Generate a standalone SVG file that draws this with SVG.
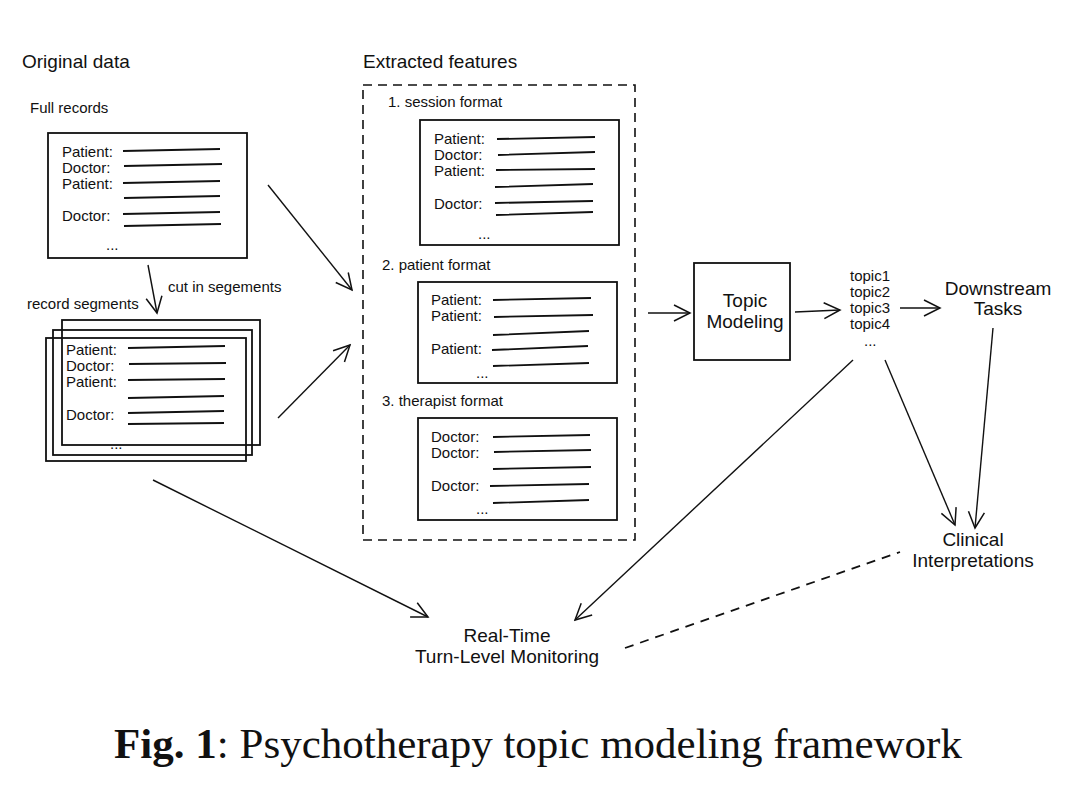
<svg xmlns="http://www.w3.org/2000/svg" width="1070" height="804" viewBox="0 0 1070 804">
<style>
text{font-family:"Liberation Sans",Arial,sans-serif;fill:#111}
.h{font-size:19px}.s{font-size:15px}.m{font-size:19px}
.box{fill:none;stroke:#111;stroke-width:1.8}
.ln{stroke:#111;stroke-width:1.8;fill:none}
.ar{stroke:#111;stroke-width:1.4;fill:none;marker-end:url(#a)}
</style>
<defs><marker id="a" viewBox="0 0 20 20" refX="18" refY="10" markerWidth="20" markerHeight="20" markerUnits="userSpaceOnUse" orient="auto"><path d="M2,2 L18,10 L2,18" fill="none" stroke="#111" stroke-width="1.5"/></marker></defs>
<rect width="1070" height="804" fill="#fff"/>
<text class="h" x="22" y="68">Original data</text>
<text class="h" x="363" y="68">Extracted features</text>
<g id="full"><text class="s" x="30" y="113">Full records</text>
<rect class="box" x="48" y="133" width="199" height="125"/>
<text class="s" x="62" y="157">Patient:</text><text class="s" x="62" y="173">Doctor:</text><text class="s" x="62" y="189">Patient:</text><text class="s" x="62" y="221">Doctor:</text><text class="s" x="106" y="250">...</text>
<path class="ln" d="M123,151L220,149M124,166L222,164M123,183L220,181M124,198L220,196M123,214L220,212M124,226L221,224"/></g>
<g id="segs"><text class="s" x="27" y="309">record segments</text>
<rect class="box" x="62" y="320" width="198" height="125"/><rect class="box" x="53" y="330" width="199" height="125"/><rect class="box" x="46" y="338" width="200" height="123"/>
<text class="s" x="66" y="355">Patient:</text><text class="s" x="66" y="371">Doctor:</text><text class="s" x="66" y="387">Patient:</text><text class="s" x="66" y="420">Doctor:</text><text class="s" x="110" y="449">...</text>
<path class="ln" d="M128,348L225,346M129,364L226,363M128,380L225,379M128,398L224,396M128,413L224,411M128,424L224,423"/></g>
<g id="features"><rect x="363" y="85" width="272" height="455" fill="none" stroke="#111" stroke-width="1.6" stroke-dasharray="9,6"/>
<text class="s" x="388" y="107">1. session format</text>
<rect class="box" x="420" y="120" width="199" height="125"/>
<text class="s" x="434" y="144">Patient:</text><text class="s" x="434" y="160">Doctor:</text><text class="s" x="434" y="176">Patient:</text><text class="s" x="434" y="209">Doctor:</text><text class="s" x="478" y="239">...</text>
<path class="ln" d="M497,139L595,137M498,155L595,152M496,170L595,169M495,187L593,184M495,203L593,201M496,215L593,212"/>
<text class="s" x="382" y="270">2. patient format</text>
<rect class="box" x="418" y="282" width="199" height="101"/>
<text class="s" x="431" y="305">Patient:</text><text class="s" x="431" y="321">Patient:</text><text class="s" x="431" y="354">Patient:</text><text class="s" x="476" y="378">...</text>
<path class="ln" d="M493,300L591,298M494,317L593,315M493,335L589,331M492,350L588,346M493,366L589,363"/>
<text class="s" x="382" y="406">3. therapist format</text>
<rect class="box" x="418" y="418" width="199" height="102"/>
<text class="s" x="431" y="442">Doctor:</text><text class="s" x="431" y="458">Doctor:</text><text class="s" x="431" y="491">Doctor:</text><text class="s" x="476" y="514">...</text>
<path class="ln" d="M493,437L590,435M494,452L591,450M493,469L591,467M490,486L589,484M493,503L589,500"/></g>
<g id="topic"><rect class="box" x="694" y="263" width="96" height="97"/>
<text class="m" x="745" y="307" text-anchor="middle">Topic</text><text class="m" x="745" y="328" text-anchor="middle">Modeling</text></g>
<g id="topics"><text class="s" x="850" y="281">topic1</text><text class="s" x="850" y="297">topic2</text><text class="s" x="850" y="313">topic3</text><text class="s" x="850" y="329">topic4</text><text class="s" x="864" y="346">...</text></g>
<g id="down"><text class="m" x="998" y="295" text-anchor="middle">Downstream</text><text class="m" x="998" y="315" text-anchor="middle">Tasks</text></g>
<g id="clin"><text class="m" x="973" y="546" text-anchor="middle">Clinical</text><text class="m" x="973" y="567" text-anchor="middle">Interpretations</text></g>
<g id="rt"><text class="m" x="507" y="642" text-anchor="middle">Real-Time</text><text class="m" x="507" y="663" text-anchor="middle">Turn-Level Monitoring</text></g>
<g id="connectors">
<path class="ar" d="M148,265L157,313"/>
<text class="s" x="168" y="292">cut in segements</text>
<path class="ar" d="M268,185L352,290"/>
<path class="ar" d="M278,418L350,345"/>
<path class="ar" d="M648,313L690,313"/>
<path class="ar" d="M795,312L840,310"/>
<path class="ar" d="M900,308L940,308"/>
<path class="ar" d="M993,328L975,528"/>
<path class="ar" d="M885,360L955,525"/>
<path class="ar" d="M853,360L575,620"/>
<path class="ar" d="M153,480L428,617"/>
<path d="M625,648L900,552" stroke="#111" stroke-width="1.8" stroke-dasharray="9,7" fill="none"/>
</g>
<text x="538" y="758" text-anchor="middle" style="font-family:'Liberation Serif','Times New Roman',serif;font-size:43px"><tspan font-weight="bold">Fig. 1</tspan>: Psychotherapy topic modeling framework</text>
</svg>
